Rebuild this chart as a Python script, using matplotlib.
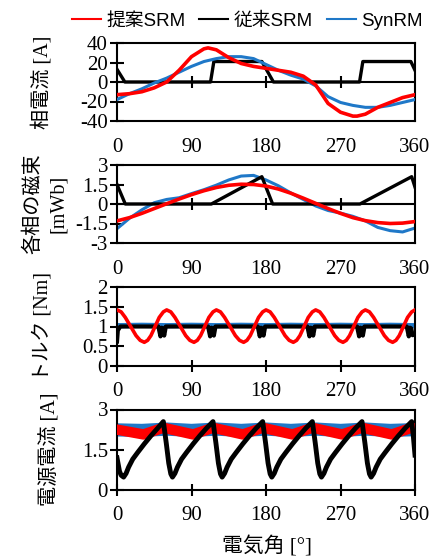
import matplotlib
matplotlib.use('Agg')
import matplotlib.pyplot as plt
from matplotlib.lines import Line2D

# ---- data (electrical angle in degrees) ----
series_names = ['提案SRM', '従来SRM', 'SynRM']
series_colors = ['#ff0000', '#000000', '#1f78c8']
xticks = [0, 90, 180, 270, 360]

# phase current [A]
cur_red_deg = [0, 15, 30, 45, 60, 75, 90, 105, 110, 120, 135, 150, 165, 180, 195, 210,
               225, 240, 255, 270, 285, 290, 300, 315, 330, 345, 360]
cur_red = [-13, -12, -10, -6, 0, 12, 26, 34, 35, 33, 25, 19, 16, 14, 12, 10,
           6, -3, -22, -31, -35, -35, -33, -26, -21, -16, -13]
cur_blue_deg = [0, 15, 30, 45, 60, 75, 90, 105, 120, 135, 150, 165, 180, 195, 210, 225,
                240, 255, 270, 285, 300, 315, 330, 345, 360]
cur_blue = [-18, -12, -7, -1, 4, 10, 16, 21, 24, 26, 26, 24, 18, 12, 7, 3,
            -4, -15, -21, -24, -26, -26, -24, -21, -18]
cur_black_deg = [0, 9.5, 113, 117, 175, 189, 293, 297, 355, 360]
cur_black = [13, 0, 0, 21, 21, 0, 0, 21, 21, 12]

# flux linkage of each phase [mWb]
flux_red_deg = [0, 15, 30, 45, 60, 75, 90, 105, 120, 135, 150, 165, 180, 195, 210, 225,
                240, 255, 270, 285, 300, 315, 330, 345, 360]
flux_red = [-1.3, -1.05, -0.72, -0.35, 0.02, 0.38, 0.72, 1.02, 1.27, 1.44, 1.52, 1.5,
            1.38, 1.15, 0.83, 0.45, 0.05, -0.35, -0.72, -1.05, -1.28, -1.43, -1.5, -1.47, -1.35]
flux_blue_deg = flux_red_deg
flux_blue = [-1.9, -1.1, -0.45, 0.1, 0.35, 0.48, 0.8, 1.1, 1.45, 1.85, 2.15, 2.2,
             1.85, 1.4, 0.85, 0.35, -0.15, -0.5, -0.7, -0.95, -1.3, -1.8, -2.05, -2.15, -1.85]
flux_black_deg = [0, 10, 114, 175, 188, 293.5, 356, 360]
flux_black = [1.5, 0, 0, 2.1, 0, 0, 2.1, 1.3]

# torque [Nm]
trq_red_deg = [0, 5, 10, 16.5, 23, 28, 33, 37, 41, 46, 51, 56,
               60, 65, 70, 76.5, 83, 88, 93, 97, 101, 106, 111, 116,
               120, 125, 130, 136.5, 143, 148, 153, 157, 161, 166, 171, 176,
               180, 185, 190, 196.5, 203, 208, 213, 217, 221, 226, 231, 236,
               240, 245, 250, 256.5, 263, 268, 273, 277, 281, 286, 291, 296,
               300, 305, 310, 316.5, 323, 328, 333, 337, 341, 346, 351, 356, 360]
trq_red = [1.42, 1.37, 1.23, 1.0, 0.77, 0.65, 0.6, 0.65, 0.77, 1.0, 1.23, 1.37,
           1.42, 1.37, 1.23, 1.0, 0.77, 0.65, 0.6, 0.65, 0.77, 1.0, 1.23, 1.37,
           1.42, 1.37, 1.23, 1.0, 0.77, 0.65, 0.6, 0.65, 0.77, 1.0, 1.23, 1.37,
           1.42, 1.37, 1.23, 1.0, 0.77, 0.65, 0.6, 0.65, 0.77, 1.0, 1.23, 1.37,
           1.42, 1.37, 1.23, 1.0, 0.77, 0.65, 0.6, 0.65, 0.77, 1.0, 1.23, 1.37,
           1.42, 1.37, 1.23, 1.0, 0.77, 0.65, 0.6, 0.65, 0.77, 1.0, 1.23, 1.37, 1.42]
trq_blue_deg = [0, 30, 60, 90, 120, 150, 180, 210, 240, 270, 300, 330, 360]
trq_blue = [1.02, 1.03, 1.02, 1.03, 1.02, 1.03, 1.02, 1.03, 1.02, 1.03, 1.02, 1.03, 1.02]
trq_black_deg = [0, 1, 4,
                 50, 52.5, 54, 55.5, 57, 59,
                 110, 112.5, 114, 115.5, 117, 119,
                 170, 172.5, 174, 175.5, 177, 179,
                 230, 232.5, 234, 235.5, 237, 239,
                 290, 292.5, 294, 295.5, 297, 299,
                 350, 352.5, 354, 355.5, 357, 360]
trq_black = [0.62, 0.9, 1.0,
             1.0, 0.75, 0.97, 0.95, 0.77, 1.0,
             1.0, 0.75, 0.97, 0.95, 0.77, 1.0,
             1.0, 0.75, 0.97, 0.95, 0.77, 1.0,
             1.0, 0.75, 0.97, 0.95, 0.77, 1.0,
             1.0, 0.75, 0.97, 0.95, 0.77, 1.0,
             1.0, 0.75, 0.97, 0.95, 0.78, 0.8]

# source current [A]
src_red_deg = [0, 32, 56, 92, 116, 152, 176, 212, 236, 272, 296, 332, 356, 360]
src_red = [2.25, 2.07, 2.32, 2.07, 2.32, 2.07, 2.32, 2.07, 2.32, 2.07, 2.32, 2.07, 2.32, 2.28]
src_blue_deg = [0, 30, 60, 90, 120, 150, 180, 210, 240, 270, 300, 330, 360]
src_blue = [2.24, 2.22, 2.27, 2.22, 2.27, 2.22, 2.27, 2.22, 2.27, 2.22, 2.27, 2.22, 2.25]
src_black_deg = [0, 3, 5, 8, 11, 14, 19, 25, 33, 41, 49,
                 56, 59.5, 62.5, 65, 67, 70, 73, 78, 84, 92, 100, 108,
                 116, 119.5, 122.5, 125, 127, 130, 133, 138, 144, 152, 160, 168,
                 176, 179.5, 182.5, 185, 187, 190, 193, 198, 204, 212, 220, 228,
                 236, 239.5, 242.5, 245, 247, 250, 253, 258, 264, 272, 280, 288,
                 296, 299.5, 302.5, 305, 307, 310, 313, 318, 324, 332, 340, 348,
                 356, 358, 360]
src_black = [1.2, 0.7, 0.55, 0.48, 0.62, 0.85, 1.15, 1.4, 1.72, 2.02, 2.3,
             2.55, 1.75, 1.0, 0.6, 0.48, 0.62, 0.85, 1.15, 1.4, 1.72, 2.02, 2.3,
             2.55, 1.75, 1.0, 0.6, 0.48, 0.62, 0.85, 1.15, 1.4, 1.72, 2.02, 2.3,
             2.55, 1.75, 1.0, 0.6, 0.48, 0.62, 0.85, 1.15, 1.4, 1.72, 2.02, 2.3,
             2.55, 1.75, 1.0, 0.6, 0.48, 0.62, 0.85, 1.15, 1.4, 1.72, 2.02, 2.3,
             2.55, 1.75, 1.0, 0.6, 0.48, 0.62, 0.85, 1.15, 1.4, 1.72, 2.02, 2.3,
             2.55, 2.0, 1.3]

plt.rcParams['font.family'] = ['Liberation Serif', 'Noto Sans CJK JP']
W, H = 442, 559
fig = plt.figure(figsize=(W / 100, H / 100), dpi=100)


def make_ax(top, bottom):
    return fig.add_axes([117 / W, 1 - bottom / H, 298 / W, (bottom - top) / H])


def style(ax, yticks, ylim, zero_axis):
    ax.set_xlim(0, 360)
    ax.set_ylim(*ylim)
    ax.set_yticks(yticks)
    ax.set_yticklabels([('%g' % v) for v in yticks])
    ax.set_xticks(xticks)
    ax.set_xticklabels([str(v) for v in xticks])
    for s in ax.spines.values():
        s.set_linewidth(1.5)
    ax.tick_params(axis='y', direction='inout', length=10, width=1.5, pad=1.5, labelsize=15)
    if zero_axis:
        ax.tick_params(axis='x', length=0, pad=12, labelsize=15)
        ax.axhline(0, color='k', lw=1.5, zorder=1)
        ax.plot([90, 180, 270], [0, 0, 0], ls='none', marker='|', ms=9, mew=1.5, color='k', zorder=1)
    else:
        ax.tick_params(axis='x', direction='inout', length=8.6, width=1.5, pad=7, labelsize=15)


YL = 14.5

ax1 = make_ax(43, 121)
ax1.plot(cur_black_deg, cur_black, color=series_colors[1], lw=2.4, zorder=2)
ax1.plot(cur_blue_deg, cur_blue, color=series_colors[2], lw=2.2, zorder=3)
ax1.plot(cur_red_deg, cur_red, color=series_colors[0], lw=2.6, zorder=4)
style(ax1, [-40, -20, 0, 20, 40], (-40, 40), True)
ax1.set_ylabel('相電流 [A]', fontsize=YL)
ax1.yaxis.set_label_coords(-0.218, 0.5)

ax2 = make_ax(165, 243)
ax2.plot(flux_blue_deg, flux_blue, color=series_colors[2], lw=2.2, zorder=2)
ax2.plot(flux_black_deg, flux_black, color=series_colors[1], lw=2.4, zorder=3)
ax2.plot(flux_red_deg, flux_red, color=series_colors[0], lw=2.6, zorder=4)
style(ax2, [-3, -1.5, 0, 1.5, 3], (-3, 3), True)
ax2.set_ylabel('各相の磁束\n[mWb]', fontsize=YL, linespacing=1.4)
ax2.yaxis.set_label_coords(-0.164, 0.5)

ax3 = make_ax(287, 366)
ax3.plot(trq_blue_deg, trq_blue, color=series_colors[2], lw=3.8, zorder=2)
ax3.plot(trq_black_deg, trq_black, color=series_colors[1], lw=3, zorder=3)
ax3.plot(trq_red_deg, trq_red, color=series_colors[0], lw=2.6, zorder=4)
style(ax3, [0, 0.5, 1, 1.5, 2], (0, 2), False)
ax3.set_ylabel('トルク [Nm]', fontsize=YL)
ax3.yaxis.set_label_coords(-0.218, 0.5)

ax4 = make_ax(409.5, 490)
ax4.plot(src_blue_deg, src_blue, color=series_colors[2], lw=9.5, zorder=2)
ax4.plot(src_red_deg, src_red, color=series_colors[0], lw=7.5, zorder=3)
ax4.plot(src_black_deg, src_black, color=series_colors[1], lw=3.5, zorder=4)
style(ax4, [0, 1.5, 3], (0, 3), False)
ax4.set_ylabel('電源電流 [A]', fontsize=YL)
ax4.yaxis.set_label_coords(-0.191, 0.5)

fig.text(267 / W, 1 - 547 / H, '電気角 [°]', fontsize=15, ha='center', va='center')

handles = [Line2D([], [], color=c, lw=1.5) for c in series_colors]
fig.legend(handles, series_names, loc='center', bbox_to_anchor=(247 / W, 1 - 21 / H),
           ncol=3, frameon=False, handlelength=1.55, handletextpad=0.27, columnspacing=0.75,
           borderaxespad=0, prop={'family': ['Liberation Sans', 'Noto Sans CJK JP'], 'size': 13.5})

fig.savefig('out.png', dpi=100)
